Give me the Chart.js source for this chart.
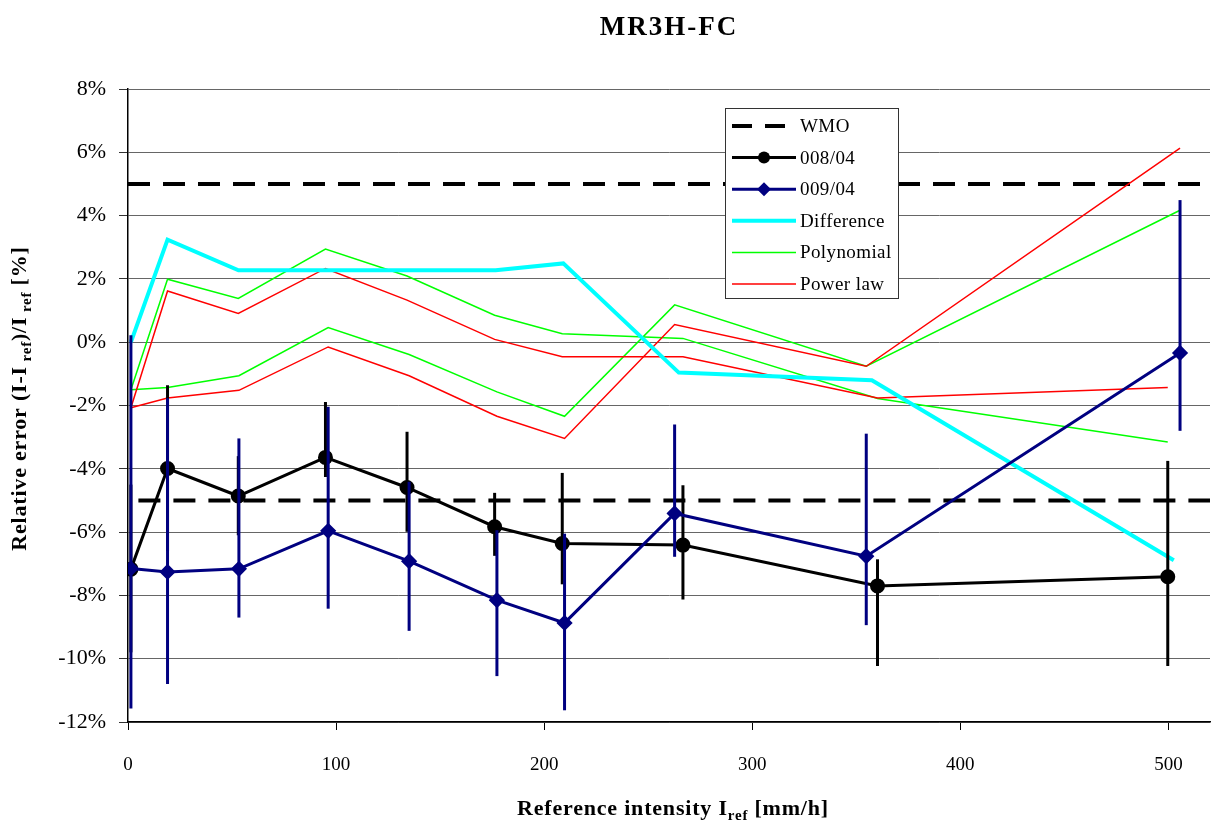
<!DOCTYPE html>
<html>
<head>
<meta charset="utf-8">
<script src="https://cdn.jsdelivr.net/npm/chart.js@4/dist/chart.umd.min.js"></script>
<style>
  html, body { margin: 0; padding: 0; background: #fff; }
  #wrap { width: 1219px; height: 823px; }
</style>
</head>
<body>
<div id="wrap"><canvas id="chart" width="1219" height="823"></canvas></div>
<script>
// ---------- data ----------
// 008/04
const xA = [1.4, 19.0, 53.0, 94.9, 134.1, 176.2, 208.7, 266.7, 360.2, 499.7];
const yA = [-7.17, -3.99, -4.86, -3.64, -4.59, -5.83, -6.36, -6.41, -7.70, -7.41];
const errHiA = [-4.5, -1.36, -3.6, -1.89, -2.83, -4.76, -4.13, -4.52, -6.86, -3.75];
const errLoA = [-9.8, -6.6, -6.1, -4.26, -5.99, -6.75, -7.65, -8.13, -10.23, -10.23];

// 009/04
const xB = [1.4, 19.0, 53.3, 96.2, 135.1, 177.3, 209.8, 262.7, 354.8, 505.6];
const yB = [-7.15, -7.26, -7.16, -5.96, -6.92, -8.15, -8.87, -5.41, -6.76, -0.34];
const errHiB = [0.22, -1.77, -3.04, -2.04, -4.41, -5.94, -6.05, -2.60, -2.89, 4.49];
const errLoB = [-11.57, -10.8, -8.70, -8.42, -9.12, -10.55, -11.63, -6.78, -8.94, -2.80];

// Difference
const xDiff = [1.4, 19.0, 53.1, 95.5, 134.6, 176.7, 209.2, 264.7, 357.5, 502.6];
const yDiff = [0, 3.24, 2.27, 2.27, 2.27, 2.27, 2.49, -0.96, -1.20, -6.89];

// Polynomial / Power law (one curve on each x set)
const polyA = [-1.50, 1.99, 1.38, 2.94, 2.09, 0.85, 0.27, 0.12, -1.78, -3.15];
const polyB = [-1.50, -1.43, -1.06, 0.46, -0.39, -1.57, -2.34, 1.18, -0.76, 4.17];
const powA = [-2.07, 1.62, 0.91, 2.33, 1.33, 0.09, -0.46, -0.46, -1.76, -1.43];
const powB = [-2.07, -1.76, -1.52, -0.15, -1.06, -2.34, -3.04, 0.56, -0.76, 6.13];

// WMO limits
const wmoUpX = [0, 520], wmoUpY = [5, 5];
const wmoLoX = [5, 520], wmoLoY = [-5, -5];

const yTicks = [-12, -10, -8, -6, -4, -2, 0, 2, 4, 6, 8];
const xTicks = [0, 100, 200, 300, 400, 500];

const pts = (xs, ys) => xs.map((x, i) => ({ x: x, y: ys[i] }));

const SERIF = '"Liberation Serif", "DejaVu Serif", serif';

const datasets = [
  { label: '008/04', data: pts(xA, yA), borderColor: '#000', backgroundColor: '#000',
    borderWidth: 3, pointStyle: 'circle', pointRadius: 6, order: 1,
    errHi: errHiA, errLo: errLoA, legend: 'marker' },
  { label: '009/04', data: pts(xB, yB), borderColor: '#000080', backgroundColor: '#000080',
    borderWidth: 3, pointStyle: 'rectRot', pointRadius: 6, order: 0,
    errHi: errHiB, errLo: errLoB, legend: 'marker' },
  { label: 'Difference', data: pts(xDiff, yDiff), borderColor: '#00ffff',
    borderWidth: 4, pointRadius: 0, order: 2, legend: 'line' },
  { label: 'Polynomial', data: pts(xA, polyA), borderColor: '#00ff00',
    borderWidth: 1.5, pointRadius: 0, order: 4, legend: 'line' },
  { label: 'Polynomial', data: pts(xB, polyB), borderColor: '#00ff00',
    borderWidth: 1.5, pointRadius: 0, order: 4, legend: 'none' },
  { label: 'Power law', data: pts(xA, powA), borderColor: '#ff0000',
    borderWidth: 1.5, pointRadius: 0, order: 3, legend: 'line' },
  { label: 'Power law', data: pts(xB, powB), borderColor: '#ff0000',
    borderWidth: 1.5, pointRadius: 0, order: 3, legend: 'none' },
  { label: 'WMO', data: pts(wmoUpX, wmoUpY), borderColor: '#000',
    borderWidth: 4, borderDash: [22, 13], pointRadius: 0, order: 5, legend: 'dash' },
  { label: 'WMO', data: pts(wmoLoX, wmoLoY), borderColor: '#000',
    borderWidth: 4, borderDash: [22, 13], pointRadius: 0, order: 5, legend: 'none' }
];
datasets.forEach(d => { d.fill = false; d.tension = 0; d.pointHoverRadius = d.pointRadius; });

// legend order as in the picture
const legendOrder = ['WMO', '008/04', '009/04', 'Difference', 'Polynomial', 'Power law'];

// ---------- error bars drawn right after their dataset ----------
const errorBars = {
  id: 'errorBars',
  afterDatasetDraw(chart, args) {
    const ds = chart.data.datasets[args.index];
    if (!ds.errHi) return;
    const ctx = chart.ctx, xs = chart.scales.x, ys = chart.scales.y;
    ctx.save();
    ctx.strokeStyle = ds.borderColor;
    ctx.lineWidth = 3;
    ds.data.forEach((p, i) => {
      const px = xs.getPixelForValue(p.x);
      ctx.beginPath();
      ctx.moveTo(px, ys.getPixelForValue(ds.errHi[i]));
      ctx.lineTo(px, ys.getPixelForValue(ds.errLo[i]));
      ctx.stroke();
    });
    ctx.restore();
  }
};

// text with subscript pieces
function drawParts(ctx, parts, cx, cy, size, spacing) {
  const big = 'bold ' + size + 'px ' + SERIF;
  const small = 'bold ' + Math.round(size * 0.66) + 'px ' + SERIF;
  ctx.letterSpacing = spacing + 'px';
  let w = 0;
  parts.forEach(p => { ctx.font = p[1] ? small : big; w += ctx.measureText(p[0]).width; });
  let x = cx - w / 2;
  ctx.textAlign = 'left';
  ctx.textBaseline = 'alphabetic';
  parts.forEach(p => {
    ctx.font = p[1] ? small : big;
    ctx.fillText(p[0], x, cy + (p[1] ? 5 : 0));
    x += ctx.measureText(p[0]).width;
  });
  ctx.letterSpacing = '0px';
}

const decorations = {
  id: 'decorations',
  afterDraw(chart) {
    const ctx = chart.ctx, area = chart.chartArea;
    const cx = (area.left + area.right) / 2;
    ctx.save();
    ctx.fillStyle = '#000';

    // title
    ctx.font = 'bold 27px ' + SERIF;
    ctx.textAlign = 'center';
    ctx.textBaseline = 'middle';
    ctx.letterSpacing = '2px';
    ctx.fillText('MR3H-FC', cx, 28);
    ctx.letterSpacing = '0px';

    // x axis title
    drawParts(ctx, [['Reference intensity I', false], ['ref', true], [' [mm/h]', false]], cx + 4, 815, 22, 0.8);

    // y axis title
    ctx.save();
    ctx.translate(26, (area.top + area.bottom) / 2 - 7);
    ctx.rotate(-Math.PI / 2);
    drawParts(ctx, [['Relative error (I-I', false], [' ref', true], [')/I', false], [' ref', true], [' [%]', false]], 0, 0, 22, 0.8);
    ctx.restore();

    // legend
    const bx = 725, by = 108, bw = 173, bh = 190, row = 31.6;
    ctx.fillStyle = '#fff';
    ctx.fillRect(bx, by, bw, bh);
    ctx.strokeStyle = '#333';
    ctx.lineWidth = 1;
    ctx.strokeRect(bx + 0.5, by + 0.5, bw, bh);
    legendOrder.forEach((name, i) => {
      const ds = chart.data.datasets.find(d => d.label === name && d.legend !== 'none');
      const y = by + 18 + i * row;
      ctx.save();
      ctx.strokeStyle = ds.borderColor;
      ctx.lineWidth = ds.borderWidth;
      ctx.setLineDash(ds.legend === 'dash' ? [20, 13] : []);
      ctx.beginPath();
      ctx.moveTo(732, y);
      ctx.lineTo(796, y);
      ctx.stroke();
      ctx.restore();
      if (ds.legend === 'marker') {
        ctx.fillStyle = ds.backgroundColor;
        ctx.beginPath();
        if (ds.pointStyle === 'circle') {
          ctx.arc(764, y, 6, 0, Math.PI * 2);
        } else {
          ctx.moveTo(764, y - 7); ctx.lineTo(771, y); ctx.lineTo(764, y + 7); ctx.lineTo(757, y);
          ctx.closePath();
        }
        ctx.fill();
      }
      ctx.fillStyle = '#000';
      ctx.font = '19px ' + SERIF;
      ctx.textAlign = 'left';
      ctx.textBaseline = 'middle';
      ctx.letterSpacing = '0.4px';
      ctx.fillText(name, 800, y + 1);
      ctx.letterSpacing = '0px';
    });
    ctx.restore();
  }
};

new Chart(document.getElementById('chart'), {
  type: 'line',
  data: { datasets },
  options: {
    responsive: false,
    devicePixelRatio: 1,
    animation: false,
    events: [],
    layout: { padding: { top: 89, right: 9, left: 0, bottom: 0 } },
    plugins: {
      legend: { display: false },
      title: { display: false },
      tooltip: { enabled: false }
    },
    scales: {
      x: {
        type: 'linear',
        min: 0, max: 520,
        afterFit(s) { s.height = 101; },
        afterBuildTicks(s) { s.ticks = xTicks.map(v => ({ value: v })); },
        ticks: { padding: 24, color: '#000', font: { family: SERIF, size: 19 } },
        grid: { drawOnChartArea: false, drawTicks: true, tickLength: 8, tickColor: '#000' },
        border: { color: '#000', width: 1.5 }
      },
      y: {
        min: -12, max: 8,
        afterFit(s) { s.width = 128; },
        afterBuildTicks(s) { s.ticks = yTicks.map(v => ({ value: v })); },
        ticks: { padding: 13, color: '#000', font: { family: SERIF, size: 22 },
                 callback: v => v + '%' },
        grid: { color: '#666', lineWidth: 1, tickLength: 9, tickColor: '#333' },
        border: { color: '#000', width: 1.5 }
      }
    }
  },
  plugins: [errorBars, decorations]
});
</script>
</body>
</html>
